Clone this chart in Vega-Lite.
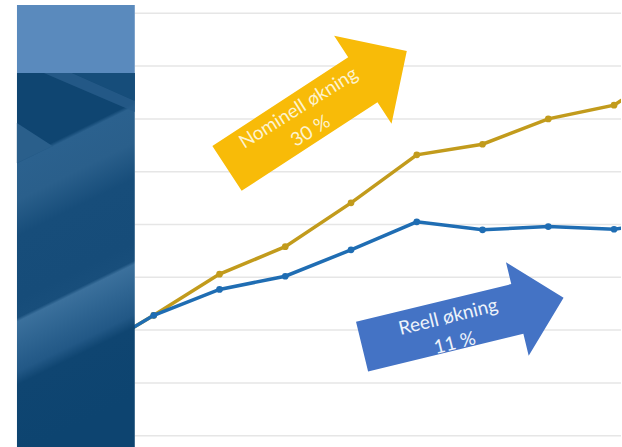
{
  "$schema": "https://vega.github.io/schema/vega-lite/v6.json",
  "width": 622,
  "height": 447,
  "padding": 0,
  "autosize": {"type": "fit", "contains": "padding"},
  "background": "white",
  "config": {"view": {"stroke": null}},
  "datasets": {
    "serier": [
      {"t": 0, "serie": "Nominell", "v": 15.4},
      {"t": 1, "serie": "Nominell", "v": 22.8},
      {"t": 2, "serie": "Nominell", "v": 30.6},
      {"t": 3, "serie": "Nominell", "v": 35.8},
      {"t": 4, "serie": "Nominell", "v": 44.1},
      {"t": 5, "serie": "Nominell", "v": 53.2},
      {"t": 6, "serie": "Nominell", "v": 55.2},
      {"t": 7, "serie": "Nominell", "v": 60.0},
      {"t": 8, "serie": "Nominell", "v": 62.6},
      {"t": 9, "serie": "Nominell", "v": 70.8},
      {"t": 0, "serie": "Reell", "v": 15.4},
      {"t": 1, "serie": "Reell", "v": 22.8},
      {"t": 2, "serie": "Reell", "v": 27.7},
      {"t": 3, "serie": "Reell", "v": 30.2},
      {"t": 4, "serie": "Reell", "v": 35.2},
      {"t": 5, "serie": "Reell", "v": 40.5},
      {"t": 6, "serie": "Reell", "v": 39.0},
      {"t": 7, "serie": "Reell", "v": 39.6},
      {"t": 8, "serie": "Reell", "v": 39.1},
      {"t": 9, "serie": "Reell", "v": 40.9}
    ],
    "grid": [{"g": 0}, {"g": 10}, {"g": 20}, {"g": 30}, {"g": 40}, {"g": 50}, {"g": 60}, {"g": 70}, {"g": 80}]
  },
  "layer": [
    {
      "data": {"name": "grid"},
      "mark": {"type": "rule", "color": "#e6e6e6", "strokeWidth": 1.5},
      "encoding": {
        "y": {"field": "g", "type": "quantitative", "axis": null, "scale": {"domain": [-2.14, 82.519], "nice": false, "zero": false}},
        "x": {"datum": 0.7115, "type": "quantitative", "axis": null, "scale": {"domain": [-1.3383, 8.106], "nice": false, "zero": false}},
        "x2": {"datum": 8.106}
      }
    },
    {
      "data": {"name": "serier"},
      "transform": [{"filter": "datum.serie == 'Nominell'"}],
      "mark": {"type": "line", "color": "#c29b1c", "strokeWidth": 3.5, "clip": true, "point": {"filled": true, "size": 45, "color": "#c29b1c", "opacity": 1}},
      "encoding": {
        "x": {"field": "t", "type": "quantitative", "axis": null, "scale": {"domain": [-1.3383, 8.106], "nice": false, "zero": false}},
        "y": {"field": "v", "type": "quantitative", "axis": null, "scale": {"domain": [-2.14, 82.519], "nice": false, "zero": false}}
      }
    },
    {
      "data": {"name": "serier"},
      "transform": [{"filter": "datum.serie == 'Reell'"}],
      "mark": {"type": "line", "color": "#1f6db3", "strokeWidth": 3.5, "clip": true, "point": {"filled": true, "size": 45, "color": "#1f6db3", "opacity": 1}},
      "encoding": {
        "x": {"field": "t", "type": "quantitative", "axis": null, "scale": {"domain": [-1.3383, 8.106], "nice": false, "zero": false}},
        "y": {"field": "v", "type": "quantitative", "axis": null, "scale": {"domain": [-2.14, 82.519], "nice": false, "zero": false}}
      }
    },
    {
      "data": {"values": [{}]},
      "mark": {
        "type": "rect",
        "color": {
          "gradient": "linear", "x1": 0, "y1": 0, "x2": 0.1546, "y2": 1,
          "stops": [
            {"offset": 0, "color": "#0f4571"},
            {"offset": 0.227, "color": "#0f4571"},
            {"offset": 0.238, "color": "#2b618e"},
            {"offset": 0.332, "color": "#2a5f8b"},
            {"offset": 0.426, "color": "#174d7a"},
            {"offset": 0.593, "color": "#164c79"},
            {"offset": 0.64, "color": "#184e7b"},
            {"offset": 0.65, "color": "#3b709c"},
            {"offset": 0.71, "color": "#2f6592"},
            {"offset": 0.781, "color": "#225886"},
            {"offset": 0.815, "color": "#0f4571"},
            {"offset": 1, "color": "#0d4470"}
          ]
        }
      },
      "encoding": {
        "x": {"datum": -1.0802, "type": "quantitative", "axis": null, "scale": {"domain": [-1.3383, 8.106], "nice": false, "zero": false}},
        "x2": {"datum": 0.7115},
        "y": {"datum": 68.69, "type": "quantitative", "axis": null, "scale": {"domain": [-2.14, 82.519], "nice": false, "zero": false}},
        "y2": {"datum": -2.14}
      }
    },
    {
      "data": {"values": [{}]},
      "mark": {"type": "rect", "color": "#5a8abd"},
      "encoding": {
        "x": {"datum": -1.0802, "type": "quantitative", "axis": null, "scale": {"domain": [-1.3383, 8.106], "nice": false, "zero": false}},
        "x2": {"datum": 0.7115},
        "y": {"datum": 81.57, "type": "quantitative", "axis": null, "scale": {"domain": [-2.14, 82.519], "nice": false, "zero": false}},
        "y2": {"datum": 68.69}
      }
    },
    {
      "data": {"values": [{}]},
      "mark": {"type": "point", "shape": "M -0.02 -0.935 L 0.295 -0.935 L 0.295 -0.795 Z", "size": 160000, "filled": true, "opacity": 1, "color": "#164d7a", "strokeWidth": 0},
      "encoding": {
        "x": {"datum": -0.1843, "type": "quantitative", "axis": null, "scale": {"domain": [-1.3383, 8.106], "nice": false, "zero": false}},
        "y": {"datum": 33.277, "type": "quantitative", "axis": null, "scale": {"domain": [-2.14, 82.519], "nice": false, "zero": false}}
      }
    },
    {
      "data": {"values": [{}]},
      "mark": {"type": "point", "shape": "M -0.16 -0.935 L -0.02 -0.935 L 0.295 -0.795 L 0.295 -0.74 Z", "size": 160000, "filled": true, "opacity": 0.85, "color": "#275c89", "strokeWidth": 0},
      "encoding": {
        "x": {"datum": -0.1843, "type": "quantitative", "axis": null, "scale": {"domain": [-1.3383, 8.106], "nice": false, "zero": false}},
        "y": {"datum": 33.277, "type": "quantitative", "axis": null, "scale": {"domain": [-2.14, 82.519], "nice": false, "zero": false}}
      }
    },
    {
      "data": {"values": [{}]},
      "mark": {"type": "point", "shape": "M -0.295 -0.685 L -0.117 -0.57 L -0.295 -0.485 Z", "size": 160000, "filled": true, "opacity": 1, "color": "#2a5f8b", "strokeWidth": 0},
      "encoding": {
        "x": {"datum": -0.1843, "type": "quantitative", "axis": null, "scale": {"domain": [-1.3383, 8.106], "nice": false, "zero": false}},
        "y": {"datum": 33.277, "type": "quantitative", "axis": null, "scale": {"domain": [-2.14, 82.519], "nice": false, "zero": false}}
      }
    },
    {
      "data": {"values": [{}]},
      "mark": {"type": "point", "shape": "M -0.6477 0.2194 L 0.2579 -0.3717 L 0.1642 -0.5151 L 0.6486 -0.4133 L 0.5469 0.0710 L 0.4532 -0.0725 L -0.4523 0.5186 Z", "size": 90000, "filled": true, "opacity": 1, "color": "#f8bb08", "strokeWidth": 0},
      "encoding": {
        "x": {"datum": 3.3687, "type": "quantitative", "axis": null, "scale": {"domain": [-1.3383, 8.106], "nice": false, "zero": false}},
        "y": {"datum": 61.117, "type": "quantitative", "axis": null, "scale": {"domain": [-2.14, 82.519], "nice": false, "zero": false}}
      }
    },
    {
      "data": {"values": [{}]},
      "mark": {"type": "point", "shape": "M -0.6883 0.0255 L 0.3467 -0.2262 L 0.3113 -0.3719 L 0.6954 -0.1354 L 0.4629 0.2511 L 0.4274 0.1054 L -0.6077 0.3571 Z", "size": 90000, "filled": true, "opacity": 1, "color": "#4473c5", "strokeWidth": 0},
      "encoding": {
        "x": {"datum": 5.6462, "type": "quantitative", "axis": null, "scale": {"domain": [-1.3383, 8.106], "nice": false, "zero": false}},
        "y": {"datum": 22.292, "type": "quantitative", "axis": null, "scale": {"domain": [-2.14, 82.519], "nice": false, "zero": false}}
      }
    },
    {
      "data": {"values": [{}]},
      "mark": {"type": "text", "text": "Nominell økning", "angle": 328, "font": "Lato", "fontSize": 19, "color": "#fdf3d0", "align": "center", "baseline": "middle"},
      "encoding": {
        "x": {"datum": 3.2016, "type": "quantitative", "axis": null, "scale": {"domain": [-1.3383, 8.106], "nice": false, "zero": false}},
        "y": {"datum": 62.064, "type": "quantitative", "axis": null, "scale": {"domain": [-2.14, 82.519], "nice": false, "zero": false}}
      }
    },
    {
      "data": {"values": [{}]},
      "mark": {"type": "text", "text": "30 %", "angle": 328, "font": "Lato", "fontSize": 19, "color": "#fdf3d0", "align": "center", "baseline": "middle"},
      "encoding": {
        "x": {"datum": 3.3839, "type": "quantitative", "axis": null, "scale": {"domain": [-1.3383, 8.106], "nice": false, "zero": false}},
        "y": {"datum": 57.708, "type": "quantitative", "axis": null, "scale": {"domain": [-2.14, 82.519], "nice": false, "zero": false}}
      }
    },
    {
      "data": {"values": [{}]},
      "mark": {"type": "text", "text": "Reell økning", "angle": 346, "font": "Lato", "fontSize": 19, "color": "#eef3fb", "align": "center", "baseline": "middle"},
      "encoding": {
        "x": {"datum": 5.4792, "type": "quantitative", "axis": null, "scale": {"domain": [-1.3383, 8.106], "nice": false, "zero": false}},
        "y": {"datum": 22.481, "type": "quantitative", "axis": null, "scale": {"domain": [-2.14, 82.519], "nice": false, "zero": false}}
      }
    },
    {
      "data": {"values": [{}]},
      "mark": {"type": "text", "text": "11 %", "angle": 346, "font": "Lato", "fontSize": 19, "color": "#eef3fb", "align": "center", "baseline": "middle"},
      "encoding": {
        "x": {"datum": 5.5779, "type": "quantitative", "axis": null, "scale": {"domain": [-1.3383, 8.106], "nice": false, "zero": false}},
        "y": {"datum": 17.557, "type": "quantitative", "axis": null, "scale": {"domain": [-2.14, 82.519], "nice": false, "zero": false}}
      }
    }
  ]
}
